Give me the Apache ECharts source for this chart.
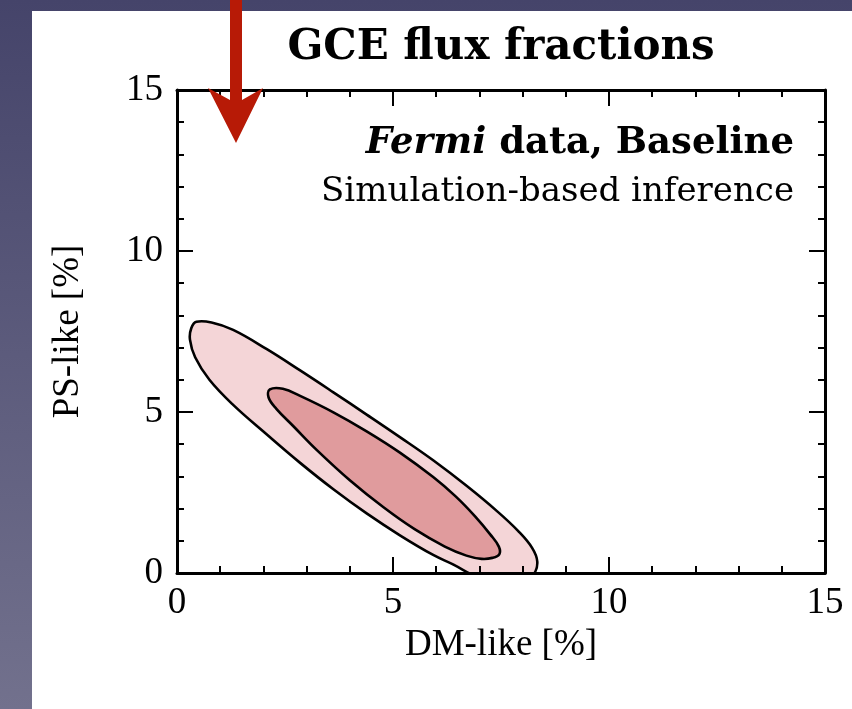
<!DOCTYPE html>
<html>
<head>
<meta charset="utf-8">
<script src="https://cdn.jsdelivr.net/npm/echarts@6/dist/echarts.min.js"></script>
<style>
  html, body { margin: 0; padding: 0; width: 852px; height: 709px; overflow: hidden;
    background: linear-gradient(to bottom, #45446a 0%, #5c5b7c 50%, #72718d 100%); }
  #panel { position: absolute; left: 32px; top: 11px; width: 820px; height: 698px; background: #ffffff; }
  #chart { position: absolute; left: 0; top: 0; width: 852px; height: 709px; }
</style>
</head>
<body>
<div id="panel"></div>
<div id="chart"></div>
<script>
// ---- data ----
const titleText = 'GCE flux fractions';
const xAxisName = 'DM-like [%]';
const yAxisName = 'PS-like [%]';
const axisMin = 0, axisMax = 15, axisStep = 5;

// outer contour (95%), clockwise from upper-left tip (part below 0 is clipped by the axis)
const outerDM = [0.45, 0.80, 1.30, 2.08, 2.85, 3.62, 4.39, 5.16, 5.93, 6.71, 7.40, 7.90, 8.22, 8.34, 8.25, 7.95, 7.40, 6.90, 6.40, 5.93, 5.16, 4.39, 3.62, 2.85, 2.08, 1.30, 0.75, 0.42, 0.30, 0.33];
const outerPS = [7.80, 7.78, 7.55, 6.95, 6.29, 5.61, 4.92, 4.22, 3.50, 2.70, 1.93, 1.30, 0.78, 0.35, -0.05, -0.30, -0.35, -0.10, 0.26, 0.56, 1.17, 1.85, 2.60, 3.42, 4.30, 5.22, 6.00, 6.70, 7.25, 7.60];
// inner contour (68%)
const innerDM = [2.15, 2.45, 2.85, 3.62, 4.39, 5.16, 5.93, 6.45, 6.90, 7.25, 7.45, 7.46, 7.30, 7.05, 6.70, 6.20, 5.50, 4.78, 4.00, 3.25, 2.70, 2.30, 2.12];
const innerPS = [5.70, 5.72, 5.50, 4.99, 4.40, 3.74, 2.98, 2.38, 1.76, 1.20, 0.82, 0.58, 0.47, 0.44, 0.54, 0.82, 1.36, 2.04, 2.88, 3.80, 4.55, 5.10, 5.45];

const contourColors = ['#f4d5d7', '#e09b9d'];

const chart = echarts.init(document.getElementById('chart'), null, { renderer: 'canvas' });

function contourSeries(xs, ys, fill) {
  const pts = xs.map((x, i) => [x, ys[i]]);
  return {
    type: 'custom',
    coordinateSystem: 'cartesian2d',
    xAxisIndex: 0, yAxisIndex: 0,
    data: pts,
    silent: true,
    renderItem: function (params, api) {
      if (params.dataIndex !== 0) return null;
      const points = pts.map(p => api.coord(p));
      const cs = params.coordSys;
      return {
        type: 'group',
        clipPath: { type: 'rect', shape: { x: cs.x, y: cs.y, width: cs.width, height: cs.height } },
        children: [{
          type: 'polygon',
          shape: { points: points, smooth: 0.4 },
          style: { fill: fill, stroke: '#000000', lineWidth: 2.6 }
        }]
      };
    }
  };
}

const serifNum = '"Liberation Serif", "DejaVu Serif", serif';
const serifText = '"DejaVu Serif", "Liberation Serif", serif';

function makeAxis(pos, showLabel, name, extra) {
  return Object.assign({
    type: 'value', position: pos, min: axisMin, max: axisMax, interval: axisStep,
    z: 10,
    axisLine: { show: true, onZero: false, lineStyle: { color: '#000', width: 3 } },
    axisTick: { show: true, inside: true, length: 16, lineStyle: { color: '#000', width: 2 } },
    minorTick: { show: true, splitNumber: 5, length: 7, lineStyle: { color: '#000', width: 2 } },
    splitLine: { show: false },
    axisLabel: { show: showLabel, color: '#000', fontFamily: serifNum, fontSize: 37 },
    name: name || '',
  }, extra || {});
}

const option = {
  backgroundColor: 'transparent',
  animation: false,
  grid: { left: 177, top: 90, right: 27, bottom: 136, containLabel: false },
  xAxis: [
    makeAxis('bottom', true, xAxisName, {
      nameLocation: 'middle', nameGap: 32,
      nameTextStyle: { color: '#000', fontFamily: serifNum, fontSize: 37 },
      axisLabel: { show: true, color: '#000', fontFamily: serifNum, fontSize: 37, margin: 12 }
    }),
    makeAxis('top', false)
  ],
  yAxis: [
    makeAxis('left', true, yAxisName, {
      nameLocation: 'middle', nameGap: 90, nameRotate: 90,
      nameTextStyle: { color: '#000', fontFamily: serifNum, fontSize: 37 },
      axisLabel: { show: true, color: '#000', fontFamily: serifNum, fontSize: 37, margin: 14 }
    }),
    makeAxis('right', false)
  ],
  series: [
    contourSeries(outerDM, outerPS, contourColors[0]),
    contourSeries(innerDM, innerPS, contourColors[1])
  ],
  graphic: [
    {
      type: 'text', x: 501, y: 48, z: 50,
      style: { text: titleText, fill: '#000', font: 'bold 42px ' + serifText, align: 'center', verticalAlign: 'middle' }
    },
    {
      type: 'text', x: 794, y: 143, z: 50,
      style: {
        text: '{it|Fermi}{b| data, Baseline}', align: 'right', verticalAlign: 'middle',
        rich: {
          it: { fontStyle: 'italic', fontWeight: 'bold', fontSize: 37, fontFamily: serifText, fill: '#000' },
          b: { fontWeight: 'bold', fontSize: 37, fontFamily: serifText, fill: '#000' }
        }
      }
    },
    {
      type: 'text', x: 794, y: 192, z: 50,
      style: { text: 'Simulation-based inference', fill: '#000', font: '34px ' + serifText, align: 'right', verticalAlign: 'middle' }
    },
    {
      type: 'polygon', z: 100,
      shape: { points: [[208, 88], [230, 100], [230, 0], [242, 0], [242, 100], [263, 88], [236, 143]] },
      style: { fill: '#b71a06' }
    }
  ]
};
chart.setOption(option);
</script>
</body>
</html>
